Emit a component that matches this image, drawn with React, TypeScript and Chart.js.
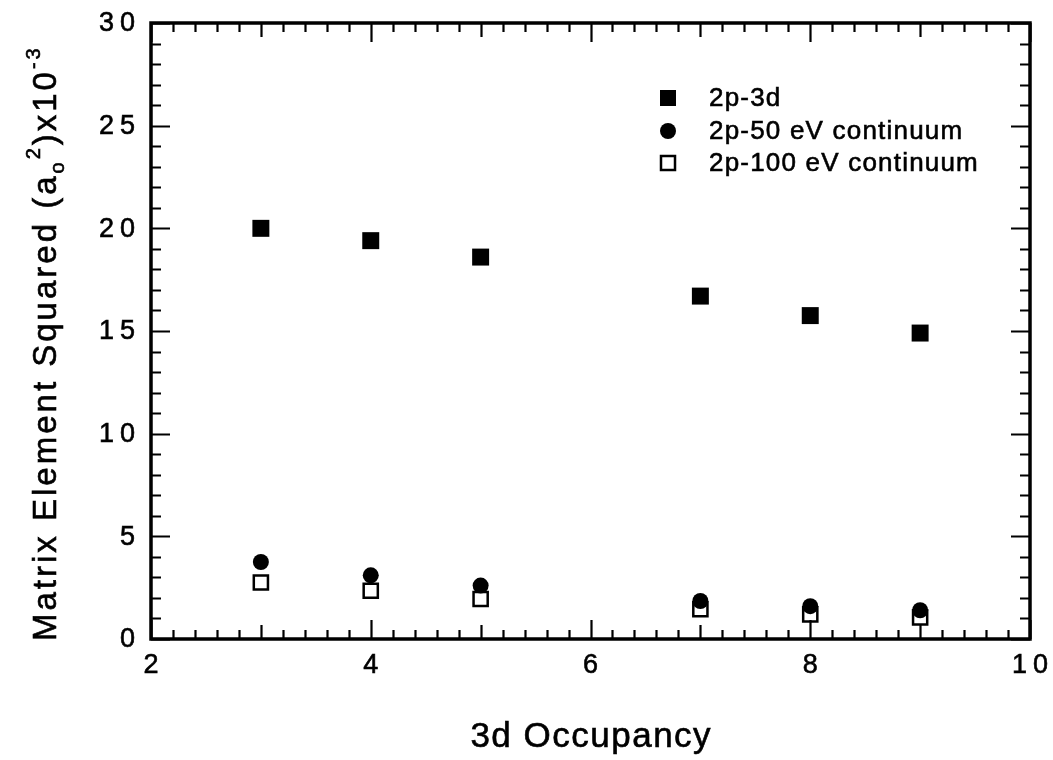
import React, { useEffect, useRef } from 'react';
import { Chart, registerables } from 'chart.js';

Chart.register(...registerables);

const occupancy = [3, 4, 5, 7, 8, 9];
const series3d = [20.0, 19.4, 18.6, 16.7, 15.75, 14.9];
const series50 = [3.75, 3.1, 2.6, 1.85, 1.6, 1.4];
const series100 = [2.75, 2.35, 1.95, 1.45, 1.2, 1.05];
const seriesLabels = ['2p-3d', '2p-50 eV continuum', '2p-100 eV continuum'];
const xTickLabels = [2, 4, 6, 8, 10];
const yTickLabels = [0, 5, 10, 15, 20, 25, 30];
const xTitle = '3d Occupancy';

const FONT = '"Liberation Sans", Arial, Helvetica, sans-serif';

function heavyText(ctx: CanvasRenderingContext2D, s: string, x: number, y: number) {
  ctx.fillText(s, x, y);
  ctx.strokeText(s, x, y);
}

const decorPlugin = {
  id: 'decor',
  afterDraw(chart: any) {
    const ctx = chart.ctx as CanvasRenderingContext2D;
    const { left, right, top, bottom } = chart.chartArea;
    const xs = chart.scales.x;
    const ys = chart.scales.y;
    ctx.save();
    ctx.strokeStyle = '#000';
    ctx.fillStyle = '#000';

    // ticks (inward, mirrored)
    ctx.lineWidth = 2.2;
    ctx.beginPath();
    for (let i = 0; i <= 40; i++) {
      const v = xs.min + (i * (xs.max - xs.min)) / 40;
      const px = Math.round(xs.getPixelForValue(v)) + 0.5;
      const len = i % 10 === 0 ? 19 : i % 5 === 0 ? 14 : 9;
      ctx.moveTo(px, bottom);
      ctx.lineTo(px, bottom - len);
      ctx.moveTo(px, top);
      ctx.lineTo(px, top + len);
    }
    for (let i = 0; i <= 30; i++) {
      const py = Math.round(ys.getPixelForValue(i)) + 0.5;
      const len = i % 5 === 0 ? 19 : 10;
      ctx.moveTo(left, py);
      ctx.lineTo(left + len, py);
      ctx.moveTo(right, py);
      ctx.lineTo(right - len, py);
    }
    ctx.stroke();

    // frame
    ctx.lineWidth = 3.5;
    ctx.strokeRect(left, top, right - left, bottom - top);

    ctx.lineWidth = 0.6;
    // tick labels
    ctx.font = `27px ${FONT}`;
    (ctx as any).letterSpacing = '6px';
    ctx.textBaseline = 'middle';
    ctx.textAlign = 'left';
    for (const v of yTickLabels) {
      const s = String(v);
      const w = ctx.measureText(s).width - 6;
      heavyText(ctx, s, 135 - w, ys.getPixelForValue(v) + 1);
    }
    for (const v of xTickLabels) {
      const s = String(v);
      const w = ctx.measureText(s).width - 6;
      heavyText(ctx, s, xs.getPixelForValue(v) - w / 2, 666);
    }

    // x title
    ctx.font = `35px ${FONT}`;
    (ctx as any).letterSpacing = '1.5px';
    ctx.textBaseline = 'alphabetic';
    {
      const w = ctx.measureText(xTitle).width - 1.5;
      heavyText(ctx, xTitle, (left + right) / 2 - w / 2, 747);
    }

    // y title with sub/superscripts
    const pieces: [string, number, number][] = [
      ['Matrix Element Squared (a', 33, 0],
      ['o', 20, 8],
      ['2', 20, -16],
      [')x10', 33, 0],
      ['-3', 20, -16],
    ];
    ctx.save();
    ctx.translate(56, 0);
    ctx.rotate(-Math.PI / 2);
    (ctx as any).letterSpacing = '3px';
    let pos = -641;
    for (const [t, f, off] of pieces) {
      ctx.font = `${f}px ${FONT}`;
      heavyText(ctx, t, pos, off);
      pos += ctx.measureText(t).width;
    }
    ctx.restore();

    // legend
    const lx = 668;
    const rows = [98, 131, 163];
    ctx.lineWidth = 2.5;
    ctx.fillRect(lx - 8, rows[0] - 8, 16, 16);
    ctx.beginPath();
    ctx.arc(lx, rows[1], 8, 0, Math.PI * 2);
    ctx.fill();
    ctx.strokeRect(lx - 7, rows[2] - 7, 14, 14);
    ctx.lineWidth = 0.6;
    ctx.font = `26px ${FONT}`;
    (ctx as any).letterSpacing = '1.2px';
    ctx.textBaseline = 'middle';
    seriesLabels.forEach((s, i) => {
      heavyText(ctx, s, 709, rows[i] + 1);
    });
    ctx.restore();
  },
};

export default function App() {
  const ref = useRef<HTMLCanvasElement>(null);
  useEffect(() => {
    document.body.style.margin = '0';
    const chart = new Chart(ref.current!, {
      type: 'scatter',
      data: {
        datasets: [
          {
            label: seriesLabels[0],
            data: occupancy.map((x, i) => ({ x, y: series3d[i] })),
            pointStyle: 'rect',
            pointRadius: 12,
            backgroundColor: '#000',
            borderColor: '#000',
            borderWidth: 0,
          },
          {
            label: seriesLabels[2],
            data: occupancy.map((x, i) => ({ x, y: series100[i] })),
            pointStyle: 'rect',
            pointRadius: 10,
            backgroundColor: 'rgba(0,0,0,0)',
            borderColor: '#000',
            borderWidth: 2.5,
          },
          {
            label: seriesLabels[1],
            data: occupancy.map((x, i) => ({ x, y: series50[i] })),
            pointStyle: 'circle',
            pointRadius: 8,
            backgroundColor: '#000',
            borderColor: '#000',
            borderWidth: 0,
          },
        ],
      },
      options: {
        responsive: false,
        animation: false,
        layout: { padding: { top: 23, right: 23, left: 0, bottom: 0 } },
        plugins: { legend: { display: false }, tooltip: { enabled: false } },
        scales: {
          x: {
            type: 'linear',
            min: 2,
            max: 10,
            ticks: { display: false },
            grid: { display: false },
            border: { display: false },
            afterFit: (s: any) => {
              s.height = 121;
            },
          },
          y: {
            type: 'linear',
            min: 0,
            max: 30,
            ticks: { display: false },
            grid: { display: false },
            border: { display: false },
            afterFit: (s: any) => {
              s.width = 151;
            },
          },
        },
      },
      plugins: [decorPlugin],
    });
    return () => chart.destroy();
  }, []);
  return (
    <div style={{ width: 1053, height: 760, background: '#fff' }}>
      <canvas ref={ref} width={1053} height={760} style={{ display: 'block' }} />
    </div>
  );
}
